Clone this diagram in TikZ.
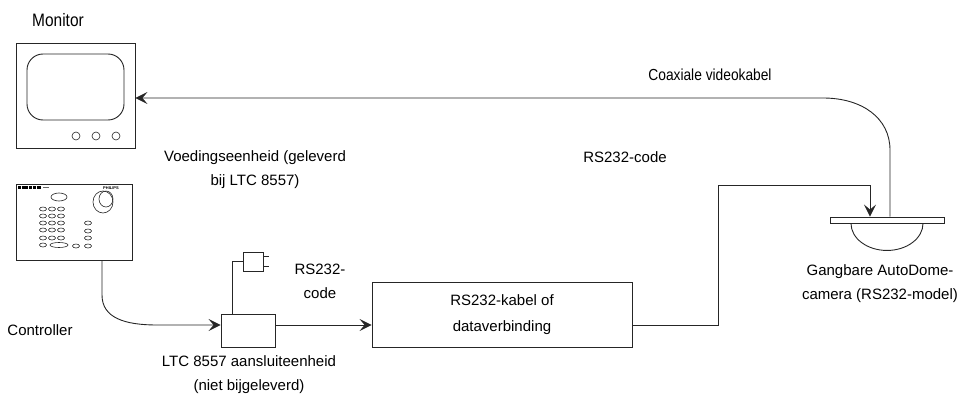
\documentclass[tikz,border=0pt]{standalone}
\usepackage{fontspec}
\setmainfont{Liberation Sans}
\newfontfamily\narrowsans[FakeStretch=0.86]{Liberation Sans}
\usetikzlibrary{arrows.meta,calc}
\begin{document}
\begin{tikzpicture}[x=1pt,y=-1pt,
  wire/.style={line width=0.9pt, draw=black!85},
  feed/.style={wire, -{Stealth[length=12pt,width=12pt,inset=5pt]}},
  unit/.style={draw=black!85, line width=0.9pt, fill=white, inner sep=0pt, rectangle},
  thin/.style={draw=black!85, line width=0.6pt},
  lbl/.style={font=\fontsize{15}{24}\selectfont, align=center, inner sep=0pt},
  narrowlbl/.style={font=\narrowsans\fontsize{16}{24}\selectfont, inner sep=0pt},
]
\useasboundingbox (0,0) rectangle (967,412);

% shared rows and columns for the connectors
\coordinate (row) at (0,325);
\coordinate (cwire) at (102,0);
\coordinate (pwr) at (232,0);
\coordinate (rsdrop) at (870,0);
\coordinate (coaxx) at (890,0);
\coordinate (rsvert) at (718,0);

% ---------- Monitor ----------
\node[unit, minimum width=119pt, minimum height=105pt] (monitor) at (75.5,95.5) {};
\draw[wire, rounded corners=16pt] (27,54) rectangle (124,120);
\foreach \cx in {76,96,116} \draw[thin] (\cx,136) circle (4pt);
\node[narrowlbl, font=\narrowsans\fontsize{18}{24}\selectfont] (monitorlbl) at (58,20) {Monitor};

% ---------- Controller ----------
\node[unit, minimum width=116pt, minimum height=76pt] (ctrl) at (74,222) {};
\draw[line width=2.4pt, dash pattern=on 3pt off 0.7pt] (18,187.5) -- (41,187.5);
\draw[line width=1pt, black!60] (43,187.5) -- (49,187.5);
\node[font=\bfseries\fontsize{4}{4}\selectfont, inner sep=0pt] (brand) at (111,188) {PHILIPS};
\draw[thin] (59,197) ellipse [x radius=8pt, y radius=4pt];
\draw[thin] (103,202) ellipse [x radius=10pt, y radius=11pt];
\draw[thin] (106,199) ellipse [x radius=7pt, y radius=8pt];
\foreach \ry in {209,216,223,230,238}
  \foreach \rx in {43,52,61}
    \draw[thin] (\rx,\ry) ellipse [x radius=3.5pt, y radius=2pt];
\foreach \ry in {223,231,238,246}
  \draw[thin] (88,\ry) ellipse [x radius=3.5pt, y radius=2pt];
\draw[thin] (43,245) ellipse [x radius=3.5pt, y radius=2pt];
\draw[thin] (59,245) ellipse [x radius=9pt, y radius=2.5pt];
\draw[thin] (76,246) ellipse [x radius=3.5pt, y radius=2pt];
\node[lbl] (ctrllbl) at (40,330) {Controller};

% ---------- LTC 8557 connection unit ----------
\node[unit, minimum width=54pt, minimum height=33pt] (ltc) at (248,330.5) {};
\node[lbl] (ltclbl) at (249,375) {LTC 8557 aansluiteenheid\\(niet bijgeleverd)};

% power supply plug
\node[unit, minimum width=20pt, minimum height=19pt] (plug) at (253,261.5) {};
\draw[wire] ($(plug.north east)+(0,5)$) -- ++(6,0);
\draw[wire] ($(plug.south east)+(0,-5)$) -- ++(6,0);
\node[lbl] (psulbl) at (255,170) {Voedingseenheid (geleverd\\bij LTC 8557)};

% ---------- RS232 cable box ----------
\node[unit, minimum width=260pt, minimum height=65pt, lbl, font=\fontsize{15}{26}\selectfont] (rsbox) at (502,314.5) {RS232-kabel of\\dataverbinding};
\node[lbl] (codelbl) at (320,281) {RS232-\\code};

% ---------- Dome camera ----------
\node[unit, minimum width=114pt, minimum height=6pt] (plate) at (887,220) {};
\draw[wire] ($(plate.south)+(-36,0)$) arc[start angle=180, end angle=360, x radius=36pt, y radius=27pt];
\node[lbl] (camlbl) at (880,284) {Gangbare AutoDome-\\camera (RS232-model)};
\node[lbl] (rscodelbl) at (625,157) {RS232-code};
\node[narrowlbl] (coaxlbl) at (710,75) {Coaxiale videokabel};

% ---------- Connectors ----------
\draw[feed] (ctrl.south -| cwire) -- (102,295) .. controls (102,318) and (125,325) .. (157,325) -- (ltc.west |- row);
\draw[wire] (ltc.north -| pwr) |- (plug.west);
\draw[feed] (ltc.east |- row) -- (rsbox.west |- row);
\draw[feed] (rsbox.east |- row) -- (rsvert |- row) -- (718,185) -- (870,185) -- (plate.north -| rsdrop);
\draw[feed] (plate.north -| coaxx) -- (890,150) .. controls (890,118) and (862,98) .. (823,98) -- (monitor.east |- 0,98);
\end{tikzpicture}
\end{document}
